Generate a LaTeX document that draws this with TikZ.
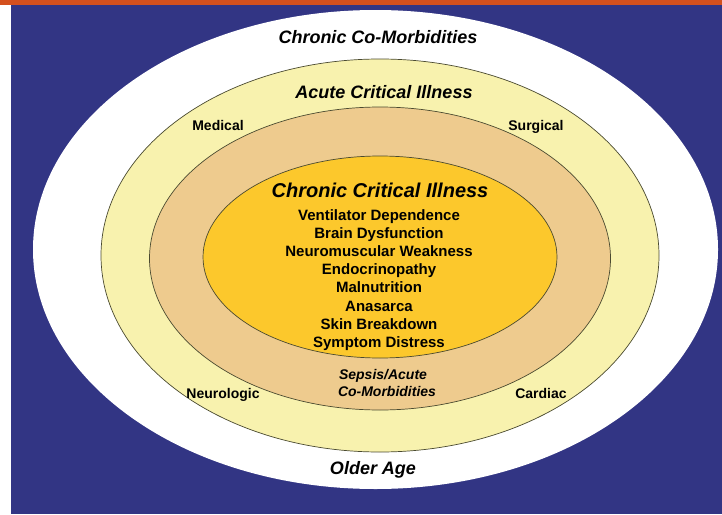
\documentclass[tikz,border=0pt]{standalone}
\usepackage{fontspec}
\setmainfont{Liberation Sans}
\definecolor{bgblue}{HTML}{323584}
\definecolor{topred}{HTML}{D4501E}
\definecolor{acute}{HTML}{F8F2AE}
\definecolor{sepsis}{HTML}{EECB8E}
\definecolor{chronic}{HTML}{FCC82C}
\definecolor{rim}{HTML}{4A4A30}
\tikzset{
  ring/.style={draw=rim, line width=0.7pt},
  lab/.style={anchor=base, inner sep=0pt, font=\fontsize{14}{16}\selectfont\bfseries},
  ilab/.style={anchor=base, inner sep=0pt, font=\fontsize{18}{20}\selectfont\bfseries\itshape},
  item/.style={anchor=base, inner sep=0pt, font=\fontsize{15}{17}\selectfont\bfseries},
  slab/.style={anchor=base, inner sep=0pt, font=\fontsize{14}{16}\selectfont\bfseries\itshape}
}
\begin{document}
\begin{tikzpicture}[x=1pt,y=-1pt]
\useasboundingbox (0,0) rectangle (722,514);
\fill[white] (0,0) rectangle (722,514);
\fill[bgblue] (11,5) rectangle (722,514);
\fill[topred] (0,0) rectangle (722,5);
% ellipses
\fill[white] (375.5,249.5) ellipse [x radius=342.5, y radius=239.5];
\filldraw[ring, fill=acute] (380,255.5) ellipse [x radius=279, y radius=196.5];
\filldraw[ring, fill=sepsis] (380,258.5) ellipse [x radius=230.5, y radius=151.5];
\filldraw[ring, fill=chronic] (380,257) ellipse [x radius=177, y radius=101];
% texts
\node[ilab] (ccm) at (378,43) {Chronic Co-Morbidities};
\node[ilab] (aci) at (384,98) {Acute Critical Illness};
\node[ilab] (old) at (373,474) {Older Age};
\node[lab] (med) at (218,130) {Medical};
\node[lab] (sur) at (536,130) {Surgical};
\node[lab] (neu) at (223,398) {Neurologic};
\node[lab] (car) at (541,398) {Cardiac};
\node[slab] (sep1) at (383,379) {Sepsis/Acute};
\node[slab] (sep2) at (387,396) {Co-Morbidities};
\node[anchor=base, inner sep=0pt, font=\fontsize{20}{22}\selectfont\bfseries\itshape] (cci) at (380,197) {Chronic Critical Illness};
\node[item] (i1) at (379,220) {Ventilator Dependence};
\node[item] (i2) at (379,238.2) {Brain Dysfunction};
\node[item] (i3) at (379,256.4) {Neuromuscular Weakness};
\node[item] (i4) at (379,274.6) {Endocrinopathy};
\node[item] (i5) at (379,292.8) {Malnutrition};
\node[item] (i6) at (379,311) {Anasarca};
\node[item] (i7) at (379,329.2) {Skin Breakdown};
\node[item] (i8) at (379,347.4) {Symptom Distress};
\end{tikzpicture}
\end{document}
